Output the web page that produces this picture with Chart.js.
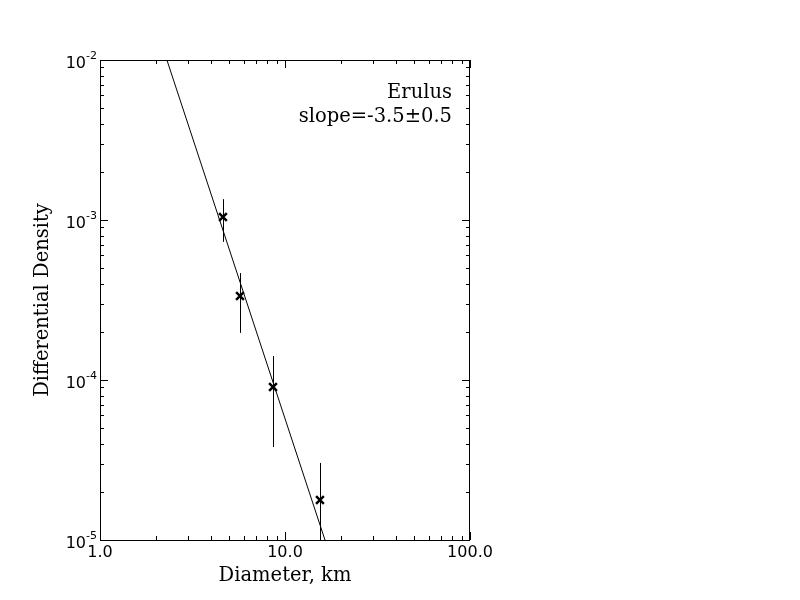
<!DOCTYPE html>
<html>
<head>
<meta charset="utf-8">
<script src="https://cdn.jsdelivr.net/npm/chart.js@4"></script>
<style>
  html, body { margin: 0; padding: 0; background: #fff; }
  #wrap { width: 800px; height: 600px; }
</style>
</head>
<body>
<div id="wrap"><canvas id="sfdChart" width="800" height="600"></canvas></div>
<script>
const diameters = [4.62, 5.71, 8.61, 15.45];
const densities = [1.045e-3, 3.35e-4, 9.04e-5, 1.78e-5];
const errHigh = [1.35e-3, 4.66e-4, 1.41e-4, 3.03e-5];
const errLow = [7.3e-4, 1.97e-4, 3.81e-5, 5.0e-6];

// fitted power law, endpoints where it leaves the plot
const fitDiameters = [2.30, 16.45];
const fitDensities = [1.0e-2, 1.0e-5];

const xTickValues = [1, 10, 100];
const xTickLabels = ['1.0', '10.0', '100.0'];
const yTickValues = [1e-5, 1e-4, 1e-3, 1e-2];
const yTickExps = ['-5', '-4', '-3', '-2'];

const bodyName = 'Erulus';
const slopeText = 'slope=-3.5\u00b10.5';

const sansFont = '"DejaVu Sans", sans-serif';
const serifFont = '"DejaVu Serif", serif';

// error bars, ticks on every side, labels and the text box
const decorPlugin = {
  id: 'decor',
  beforeDatasetsDraw(chart) {
    const {ctx, chartArea: a, scales: {x, y}} = chart;
    ctx.save();
    ctx.beginPath();
    ctx.rect(a.left, a.top, a.right - a.left, a.bottom - a.top);
    ctx.clip();
    ctx.strokeStyle = '#000';
    ctx.lineWidth = 1;
    diameters.forEach((d, i) => {
      const px = Math.round(x.getPixelForValue(d)) + 0.5;
      ctx.beginPath();
      ctx.moveTo(px, y.getPixelForValue(errHigh[i]));
      ctx.lineTo(px, y.getPixelForValue(errLow[i]));
      ctx.stroke();
    });
    ctx.restore();
  },
  afterDraw(chart) {
    const {ctx, chartArea: a, scales: {x, y}} = chart;
    ctx.save();
    ctx.strokeStyle = '#000';
    ctx.lineWidth = 1;
    ctx.strokeRect(a.left + 0.5, a.top + 0.5, a.right - a.left - 1, a.bottom - a.top);

    // x ticks (major + minor), bottom and top, pointing inward
    ctx.beginPath();
    for (let dec = 1; dec < 100; dec *= 10) {
      for (let m = 1; m <= 10; m++) {
        const v = dec * m;
        if (v > 100) continue;
        const len = (m === 1 || m === 10) ? 8 : 4;
        const px = Math.round(x.getPixelForValue(v)) + 0.5;
        ctx.moveTo(px, a.bottom); ctx.lineTo(px, a.bottom - len);
        ctx.moveTo(px, a.top); ctx.lineTo(px, a.top + len);
      }
    }
    // y ticks, left and right
    for (let dec = 1e-5; dec < 1e-2 * 0.99; dec *= 10) {
      for (let m = 1; m <= 10; m++) {
        const v = dec * m;
        const len = (m === 1 || m === 10) ? 8 : 4;
        const py = Math.round(y.getPixelForValue(v)) + 0.5;
        ctx.moveTo(a.left, py); ctx.lineTo(a.left + len, py);
        ctx.moveTo(a.right, py); ctx.lineTo(a.right - len, py);
      }
    }
    ctx.stroke();

    ctx.fillStyle = '#000';
    // x tick labels
    ctx.font = '16px ' + sansFont;
    ctx.textAlign = 'center';
    ctx.textBaseline = 'top';
    xTickValues.forEach((v, i) => {
      ctx.fillText(xTickLabels[i], x.getPixelForValue(v), a.bottom + 5);
    });

    // y tick labels as 10 with superscript exponent
    yTickValues.forEach((v, i) => {
      const py = y.getPixelForValue(v);
      ctx.font = '11px ' + sansFont;
      ctx.textAlign = 'right';
      ctx.textBaseline = 'alphabetic';
      const expW = ctx.measureText(yTickExps[i]).width;
      ctx.fillText(yTickExps[i], a.left - 3, py - 1);
      ctx.font = '16px ' + sansFont;
      ctx.fillText('10', a.left - 3 - expW, py + 8);
    });

    // axis titles
    ctx.font = '19.5px ' + serifFont;
    ctx.textAlign = 'center';
    ctx.textBaseline = 'alphabetic';
    ctx.fillText('Diameter, km', (a.left + a.right) / 2, 581);
    ctx.save();
    ctx.translate(48, (a.top + a.bottom) / 2);
    ctx.rotate(-Math.PI / 2);
    ctx.fillText('Differential Density', 0, 0);
    ctx.restore();

    // annotation, upper right
    ctx.textAlign = 'right';
    ctx.fillText(bodyName, a.right - 18, 98);
    ctx.fillText(slopeText, a.right - 18, 122);
    ctx.restore();
  }
};

const ctx = document.getElementById('sfdChart').getContext('2d');

const sfdChart = new Chart(ctx, {
  type: 'scatter',
  data: {
    datasets: [
      {
        label: 'fit',
        type: 'line',
        data: fitDiameters.map((d, i) => ({x: d, y: fitDensities[i]})),
        borderColor: '#000',
        borderWidth: 1,
        pointRadius: 0,
        fill: false,
        tension: 0
      },
      {
        label: bodyName,
        data: diameters.map((d, i) => ({x: d, y: densities[i]})),
        pointStyle: 'crossRot',
        pointRadius: 5.5,
        borderColor: '#000',
        backgroundColor: '#000',
        borderWidth: 2.5
      }
    ]
  },
  options: {
    responsive: false,
    animation: false,
    layout: {padding: {left: 0, top: 60, right: 330, bottom: 0}},
    plugins: {
      legend: {display: false},
      tooltip: {enabled: false}
    },
    scales: {
      x: {
        type: 'logarithmic',
        min: 1,
        max: 100,
        grid: {display: false},
        border: {display: false},
        ticks: {display: false},
        afterFit(scale) { scale.height = 60; }
      },
      y: {
        type: 'logarithmic',
        min: 1e-5,
        max: 1e-2,
        grid: {display: false},
        border: {display: false},
        ticks: {display: false},
        afterFit(scale) { scale.width = 100; }
      }
    }
  },
  plugins: [decorPlugin]
});
</script>
</body>
</html>
